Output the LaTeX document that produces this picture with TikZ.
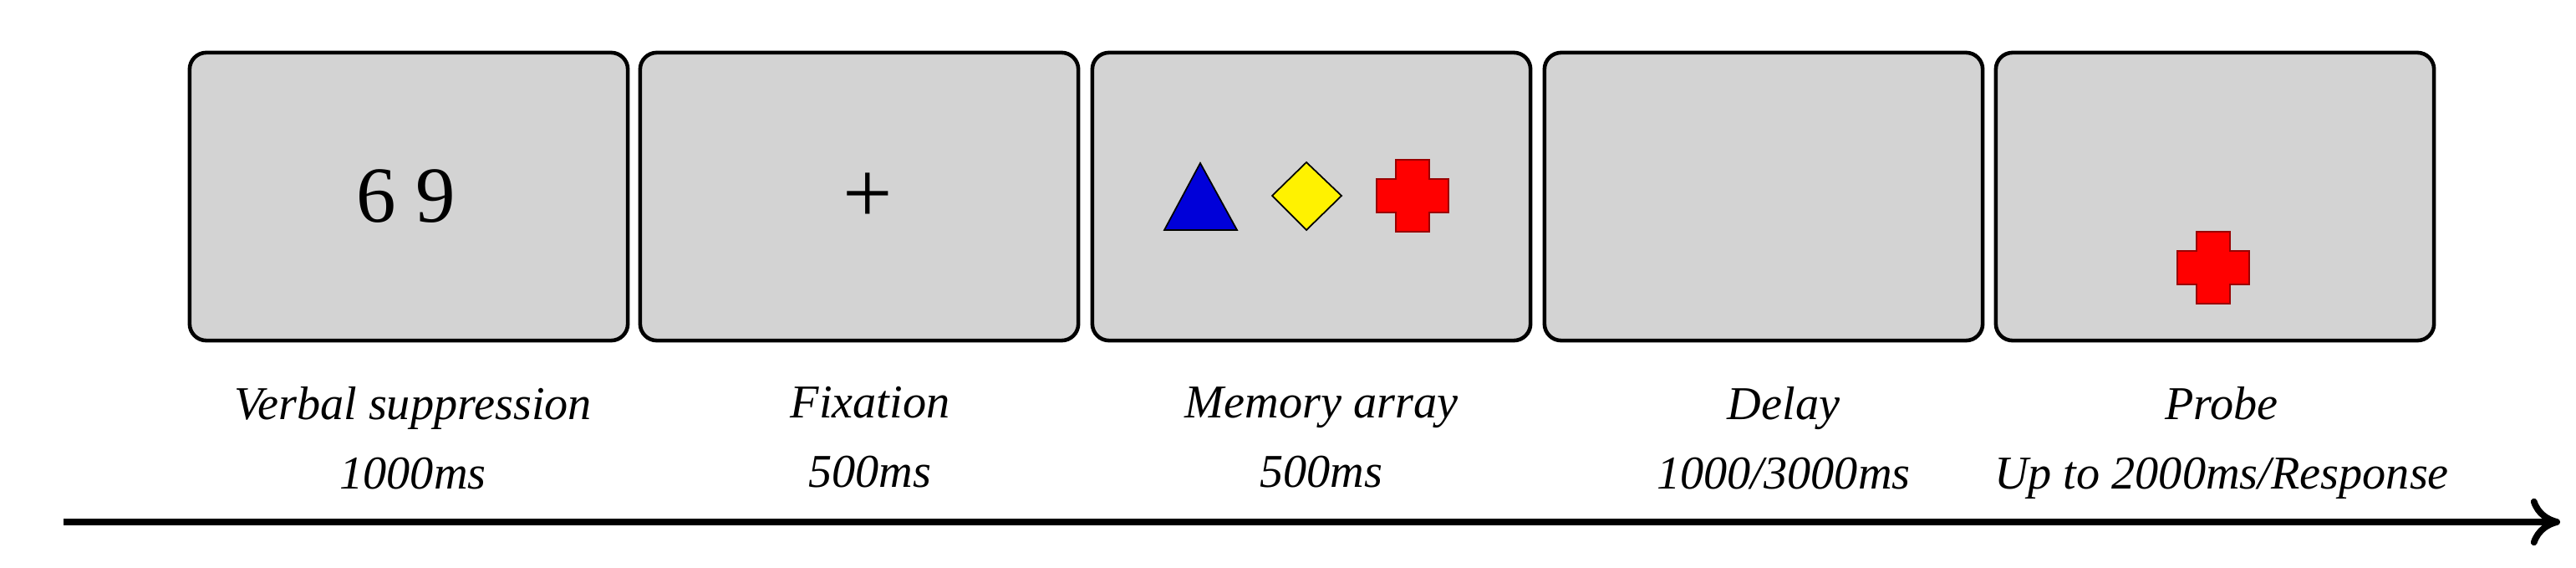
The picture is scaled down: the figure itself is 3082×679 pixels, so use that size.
\documentclass[tikz,border=0pt]{standalone}
\usepackage{fontspec}
\setmainfont{Liberation Serif}
\usetikzlibrary{arrows.meta}
\begin{document}
\begin{tikzpicture}[x=0.01cm,y=-0.01cm,
  screen/.style={draw=black,line width=1.3pt,fill=scrgray,rounded corners=0.2cm,minimum width=5.24cm,minimum height=3.44cm,inner sep=0pt},
  lbl/.style={font=\fontsize{16}{23.6}\selectfont\itshape,align=center,anchor=north},
  shp/.style={draw=black,line width=0.5pt}]
\definecolor{scrgray}{RGB}{211,211,211}
\useasboundingbox (0,0) rectangle (3082,679);
\foreach \n/\x in {a/489,b/1028,c/1569,d/2110,e/2650}
  \node[screen] (\n) at (\x,235) {};
\node[font=\fontsize{27}{30}\selectfont] (six) at (486,235) {6 9};
\node[font=\fontsize{30}{32}\selectfont] (fix) at (1038,237) {+};
\node[lbl] (la) at (494,450) {Verbal suppression\\1000ms};
\node[lbl] (lb) at (1041,450) {Fixation\\500ms};
\node[lbl] (lc) at (1581,450) {Memory array\\500ms};
\node[lbl] (ld) at (2134,450) {Delay\\1000/3000ms};
\node[lbl] (le) at (2658,450) {Probe\\Up to 2000ms/Response};
\fill[blue!85!black,shp] (1393,275) -- (1436,195) -- (1480,275) -- cycle;
\fill[yellow,shp] (1563,194) -- (1605,234) -- (1563,275) -- (1522,234) -- cycle;
\def\cross#1#2{\fill[red,draw=red!60!black,line width=0.6pt] (#1-20,#2-43) -- (#1+20,#2-43) -- (#1+20,#2-20) -- (#1+43,#2-20) -- (#1+43,#2+20) -- (#1+20,#2+20) -- (#1+20,#2+43) -- (#1-20,#2+43) -- (#1-20,#2+20) -- (#1-43,#2+20) -- (#1-43,#2-20) -- (#1-20,#2-20) -- cycle;}
\cross{1690}{234}
\cross{2648}{320}
\coordinate (t0) at (76,624);
\coordinate (t1) at (3063,624);
\draw[line width=2.2pt,-{To[length=10pt,width=16pt]}] (t0) -- (t1);
\end{tikzpicture}
\end{document}
